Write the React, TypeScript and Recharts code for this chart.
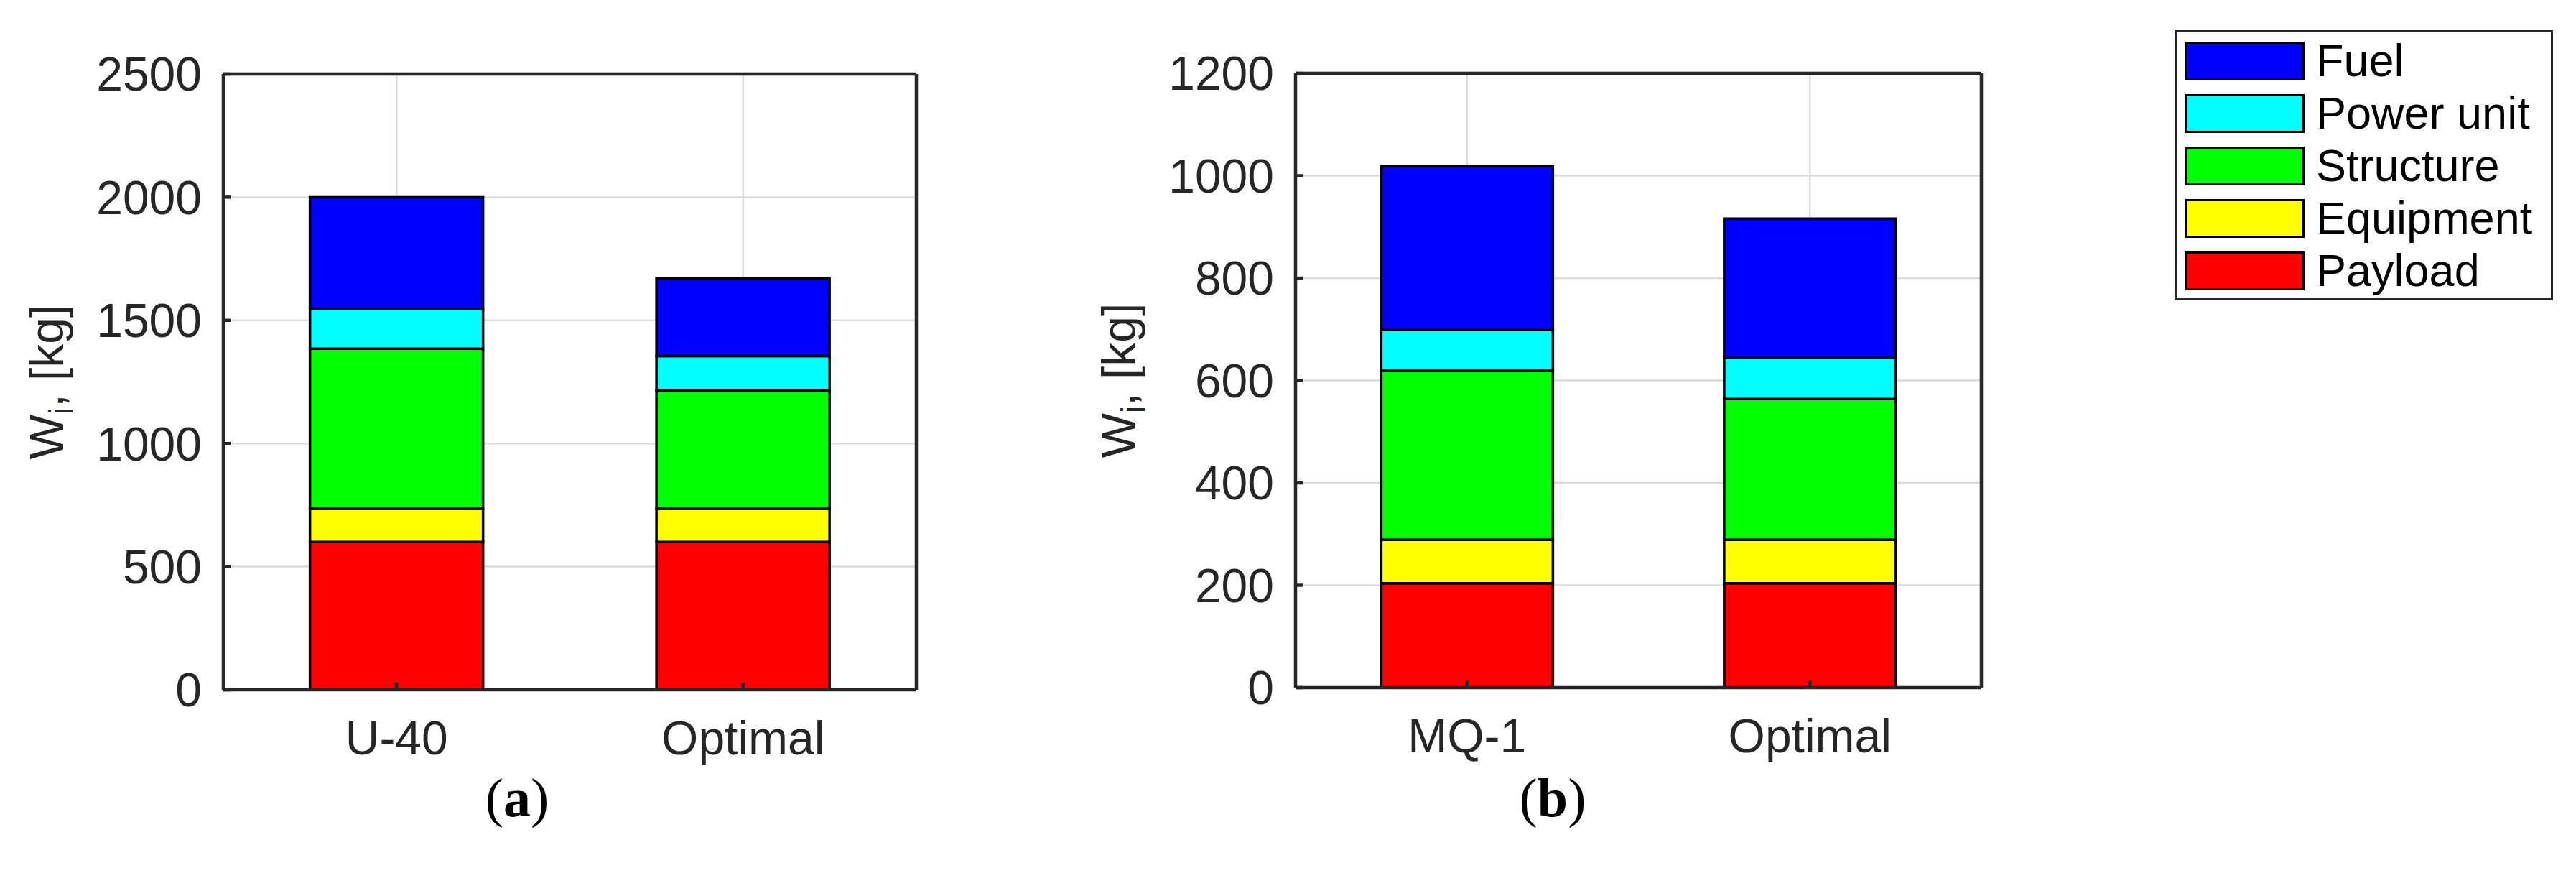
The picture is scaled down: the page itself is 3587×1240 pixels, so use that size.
import { BarChart, Bar, XAxis, YAxis, CartesianGrid, Legend, Label } from "recharts"

const SANS = "'Liberation Sans', Arial, Helvetica, sans-serif"
const SERIF = "'Liberation Serif', 'Times New Roman', serif"
const AXIS = "#262626"

// stacking order, bottom to top
const SERIES = ["Payload", "Equipment", "Structure", "Power unit", "Fuel"]

const COLORS: Record<string, string> = {
  Payload: "#ff0000",
  Equipment: "#ffff00",
  Structure: "#00ff00",
  "Power unit": "#00ffff",
  Fuel: "#0000ff",
}

// (a) U-40 vs optimal
const CATEGORIES_A = ["U-40", "Optimal"]
const PAYLOAD_A = [600, 600]
const EQUIPMENT_A = [135, 135]
const STRUCTURE_A = [650, 480]
const POWER_A = [160, 140]
const FUEL_A = [455, 315]
const TICKS_A = [0, 500, 1000, 1500, 2000, 2500]

// (b) MQ-1 vs optimal
const CATEGORIES_B = ["MQ-1", "Optimal"]
const PAYLOAD_B = [204, 204]
const EQUIPMENT_B = [85, 85]
const STRUCTURE_B = [330, 275]
const POWER_B = [80, 80]
const FUEL_B = [320, 272]
const TICKS_B = [0, 200, 400, 600, 800, 1000, 1200]

function buildRows(
  cats: string[],
  payload: number[],
  equipment: number[],
  structure: number[],
  power: number[],
  fuel: number[]
) {
  return cats.map((name, i) => ({
    name,
    Payload: payload[i],
    Equipment: equipment[i],
    Structure: structure[i],
    "Power unit": power[i],
    Fuel: fuel[i],
  }))
}

const rowsA = buildRows(CATEGORIES_A, PAYLOAD_A, EQUIPMENT_A, STRUCTURE_A, POWER_A, FUEL_A)
const rowsB = buildRows(CATEGORIES_B, PAYLOAD_B, EQUIPMENT_B, STRUCTURE_B, POWER_B, FUEL_B)

const YTitle = (props: any) => {
  const vb = props.viewBox
  const cx = vb.x - 46
  const cy = vb.y + vb.height / 2
  return (
    <text
      x={cx}
      y={cy}
      transform={`rotate(-90 ${cx} ${cy})`}
      textAnchor="middle"
      dominantBaseline="central"
      fontSize={66}
      fontFamily={SANS}
      fill={AXIS}
    >
      W
      <tspan fontSize={46} dy={20}>
        i
      </tspan>
      <tspan dy={-20}>, [kg]</tspan>
    </text>
  )
}

function makeCaption(letter: string, x: number) {
  return () => (
    <text x={x} y={1136} textAnchor="middle" fontSize={76} fontFamily={SERIF} fill="#000">
      (<tspan fontWeight="bold">{letter}</tspan>)
    </text>
  )
}

function LegendBox({ payload }: any) {
  // legend lists the stack top-down, like the bars
  const byName: Record<string, string> = {}
  for (const p of payload ?? []) byName[p.value] = p.color
  const items = [...SERIES].reverse()
  return (
    <div
      style={{
        width: 521,
        height: 367,
        paddingTop: 3,
        border: `3.5px solid ${AXIS}`,
        background: "#fff",
      }}
    >
      {items.map((name) => (
        <div key={name} style={{ display: "flex", alignItems: "center", height: 73, marginLeft: 11 }}>
          <div style={{ width: 161, height: 48, background: byName[name] ?? COLORS[name], border: "3.5px solid #000" }} />
          <span style={{ marginLeft: 16, fontSize: 63, fontFamily: SANS, color: "#000", lineHeight: 1 }}>
            {name}
          </span>
        </div>
      ))}
    </div>
  )
}

interface PanelProps {
  rows: any[]
  ticks: number[]
  width: number
  margin: { top: number; right: number; bottom: number; left: number }
  letter: string
  captionX: number
  withLegend?: boolean
}

function WeightPanel({ rows, ticks, width, margin, letter, captionX, withLegend }: PanelProps) {
  const domain = [0, ticks[ticks.length - 1]]
  const line = { stroke: AXIS, strokeWidth: 4.5 }
  return (
    <BarChart width={width} height={1240} data={rows} margin={margin} barCategoryGap="25%">
      <CartesianGrid stroke="#dcdcdc" strokeWidth={2.5} />
      <XAxis
        dataKey="name"
        height={120}
        interval={0}
        tickSize={-10}
        tickMargin={53}
        axisLine={line}
        tickLine={line}
        tick={{ fill: AXIS, fontSize: 66, fontFamily: SANS }}
      >
        <Label content={makeCaption(letter, captionX)} />
      </XAxis>
      <XAxis xAxisId="top" dataKey="name" orientation="top" height={1} tickSize={-10} tick={false} axisLine={line} tickLine={line} />
      <YAxis
        type="number"
        domain={domain}
        ticks={ticks}
        interval={0}
        width={200}
        tickSize={-10}
        tickMargin={40}
        axisLine={line}
        tickLine={line}
        tick={{ fill: AXIS, fontSize: 66, fontFamily: SANS }}
      >
        <Label content={YTitle} />
      </YAxis>
      <YAxis
        yAxisId="right"
        orientation="right"
        type="number"
        domain={domain}
        ticks={ticks}
        interval={0}
        allowDataOverflow
        width={1}
        tickSize={-10}
        tick={false}
        axisLine={line}
        tickLine={line}
      />
      {SERIES.map((s) => (
        <Bar key={s} dataKey={s} name={s} stackId="w" fill={COLORS[s]} stroke="#000" strokeWidth={3.5} isAnimationActive={false} />
      ))}
      {withLegend && (
        <Legend
          layout="vertical"
          align="center"
          verticalAlign="middle"
          content={<LegendBox />}
          wrapperStyle={{ position: "absolute", left: 1578, top: 42, width: "auto", height: "auto" }}
        />
      )}
    </BarChart>
  )
}

export default function App() {
  return (
    <div style={{ position: "absolute", left: 0, top: 0, width: 3587, height: 1240, background: "#fff" }}>
      <div style={{ position: "absolute", left: 0, top: 0 }}>
        <WeightPanel
          rows={rowsA}
          ticks={TICKS_A}
          width={1450}
          margin={{ top: 102, right: 173, bottom: 160, left: 111 }}
          letter="a"
          captionX={720}
        />
      </div>
      <div style={{ position: "absolute", left: 1450, top: 0 }}>
        <WeightPanel
          rows={rowsB}
          ticks={TICKS_B}
          width={2137}
          margin={{ top: 101, right: 827, bottom: 163, left: 154 }}
          letter="b"
          captionX={712}
          withLegend
        />
      </div>
    </div>
  )
}
